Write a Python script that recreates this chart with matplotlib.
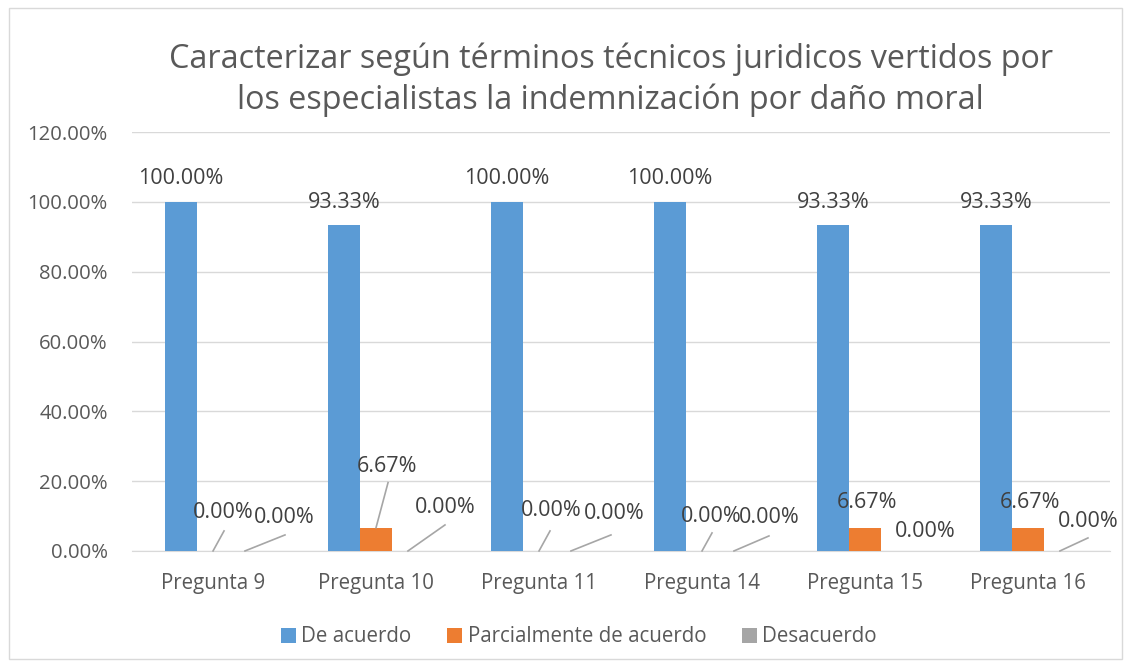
import matplotlib
matplotlib.use("Agg")
import matplotlib.pyplot as plt
import numpy as np
from matplotlib.patches import Rectangle

categories = ["Pregunta 9", "Pregunta 10", "Pregunta 11", "Pregunta 14", "Pregunta 15", "Pregunta 16"]
de_acuerdo = [100.00, 93.33, 100.00, 100.00, 93.33, 93.33]
parcial = [0.00, 6.67, 0.00, 0.00, 6.67, 6.67]
desacuerdo = [0.00, 0.00, 0.00, 0.00, 0.00, 0.00]
series_names = ["De acuerdo", "Parcialmente de acuerdo", "Desacuerdo"]
colors = ["#5B9BD5", "#ED7D31", "#A5A5A5"]
yticks = [0, 20, 40, 60, 80, 100, 120]
title = "Caracterizar según términos técnicos juridicos vertidos por\nlos especialistas la indemnización por daño moral"

# label offsets in pixels: (text dx, text dy, line end dx, line end dy or None)
orange_offsets = [(10, 38, 11, 20), (11, 61, 12, 45), (12, 40, 11, 20),
                  (9, 34, 10, 18), (2, 25, None, None), (2, 25, None, None)]
gray_offsets = [(39, 33, 40, 16), (37, 43, 37, 26), (43, 37, 40, 16),
                (35, 33, 35, 15), (28, 19, None, None), (28, 29, 28, 13)]

plt.rcParams['font.family'] = ['Open Sans', 'DejaVu Sans']
txt = "#595959"

fig = plt.figure(figsize=(11.31, 6.67), dpi=100)
ax = fig.add_axes([0.1163, 0.174, 0.8647, 0.628])

x = np.arange(len(categories))
w = 0.196
data = [de_acuerdo, parcial, desacuerdo]
for k, (vals, c, n) in enumerate(zip(data, colors, series_names)):
    ax.bar(x + (k - 1) * w, vals, width=w, color=c, label=n, zorder=3)

ax.set_ylim(0, 120)
ax.set_xlim(-0.5, len(categories) - 0.5)
ax.set_yticks(yticks)
ax.set_yticklabels([f"{v:.2f}%" for v in yticks], fontsize=14.6, color=txt)
ax.set_xticks(x)
ax.set_xticklabels(categories, fontsize=14.8, color=txt)
ax.tick_params(axis='y', length=0, pad=17)
ax.tick_params(axis='x', length=0, pad=16)
ax.grid(axis='y', color="#D9D9D9", linewidth=1, zorder=0)
for s in ["top", "right", "left"]:
    ax.spines[s].set_visible(False)
ax.spines["bottom"].set_color("#D9D9D9")

lbl_kw = dict(fontsize=15.5, color="#404040", ha="center", va="center")
# blue labels
for i, v in enumerate(de_acuerdo):
    ax.annotate(f"{v:.2f}%", xy=(x[i] - w, v), xytext=(0, 23),
                textcoords="offset pixels", **lbl_kw)


def leader(xd, yd, dx, dy):
    trans = ax.transData
    p0 = trans.transform((xd, yd))
    p1 = p0 + np.array([dx, dy])
    inv = trans.inverted()
    q0 = inv.transform(p0)
    q1 = inv.transform(p1)
    ax.plot([q0[0], q1[0]], [q0[1], q1[1]], color="#A6A6A6", lw=1.2,
            zorder=4, clip_on=False)


for k, (vals, offs) in enumerate([(parcial, orange_offsets), (desacuerdo, gray_offsets)]):
    for i, v in enumerate(vals):
        tdx, tdy, ldx, ldy = offs[i]
        xc = x[i] + k * w
        ax.annotate(f"{v:.2f}%", xy=(xc, v), xytext=(tdx, tdy),
                    textcoords="offset pixels", **lbl_kw)
        if ldx is not None:
            leader(xc, v, ldx, ldy)

fig.text(0.540, 0.880, title, ha="center", va="center", fontsize=23.3,
         color=txt, linespacing=1.28)

leg = ax.legend(loc="center", bbox_to_anchor=(0.4576, -0.205), ncol=3, frameon=False,
                fontsize=14.8, handlelength=0.73, handleheight=0.73, columnspacing=1.75,
                handletextpad=0.25)
for t in leg.get_texts():
    t.set_color(txt)

fig.patches.append(Rectangle((0.008, 0.012), 0.984, 0.976, transform=fig.transFigure,
                             fill=False, edgecolor="#D9D9D9", lw=1))

fig.savefig("out.png", dpi=100)
